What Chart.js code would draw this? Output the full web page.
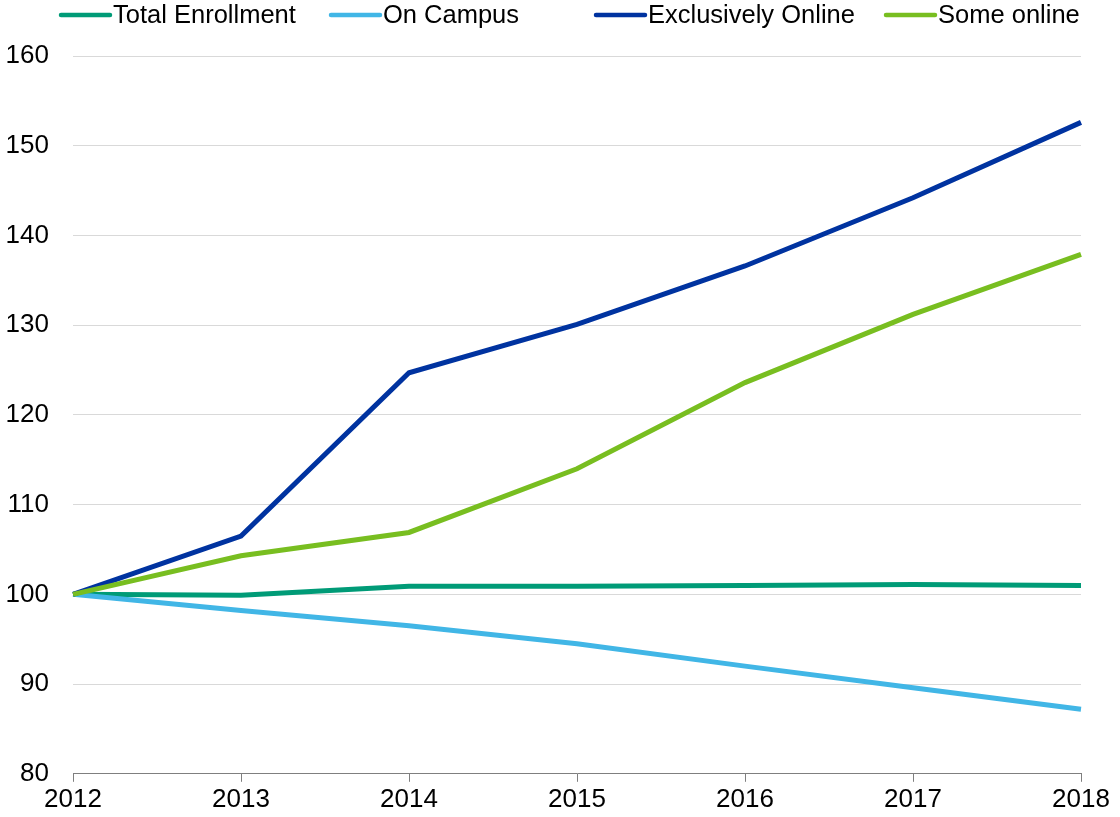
<!DOCTYPE html>
<html>
<head>
<meta charset="utf-8">
<script src="https://cdn.jsdelivr.net/npm/chart.js@4.4.0/dist/chart.umd.min.js"></script>
<style>
html,body{margin:0;padding:0;background:#fff;}
#wrap{width:1120px;height:817px;position:relative;}
</style>
</head>
<body>
<div id="wrap"><canvas id="c" width="1120" height="817"></canvas></div>
<script>
const years = ["2012","2013","2014","2015","2016","2017","2018"];
const totalEnrollment = [100, 99.9, 100.9, 100.9, 101.0, 101.1, 101.0];
const onCampus = [100, 98.2, 96.5, 94.5, 92.0, 89.6, 87.2];
const exclusivelyOnline = [100, 106.5, 124.7, 130.1, 136.6, 144.2, 152.6];
const someOnline = [100, 104.3, 106.9, 114.0, 123.6, 131.2, 137.9];
const seriesNames = ["Total Enrollment", "On Campus", "Exclusively Online", "Some online"];
const seriesColors = ["#009B77", "#41B6E6", "#0033A0", "#78BE20"];

const FONT = "'Liberation Sans', Arial, sans-serif";
const legendX = [59, 329, 594, 884];

const customLegend = {
  id: 'customLegend',
  afterDraw(chart) {
    const ctx = chart.ctx;
    ctx.save();
    ctx.font = "25.5px " + FONT;
    ctx.textBaseline = 'middle';
    ctx.textAlign = 'left';
    const y = 15;
    chart.data.datasets.forEach((ds, i) => {
      const x = legendX[i];
      ctx.strokeStyle = ds.borderColor;
      ctx.lineWidth = 4.5;
      ctx.lineCap = 'round';
      ctx.beginPath();
      ctx.moveTo(x + 2, y);
      ctx.lineTo(x + 51, y);
      ctx.stroke();
      ctx.fillStyle = '#000';
      ctx.fillText(ds.label, x + 54, y + 1);
    });
    ctx.restore();
  }
};

const seriesData = [totalEnrollment, onCampus, exclusivelyOnline, someOnline];
new Chart(document.getElementById('c'), {
  type: 'line',
  data: {
    labels: years,
    datasets: seriesData.map((d, i) => ({
      label: seriesNames[i],
      data: d,
      borderColor: seriesColors[i],
      backgroundColor: seriesColors[i],
      borderWidth: 5,
      pointRadius: 0,
      tension: 0,
      fill: false,
      order: 4 - i
    }))
  },
  options: {
    responsive: false,
    animation: false,
    layout: { padding: { top: 56, left: 6, right: 39, bottom: 0 } },
    plugins: { legend: { display: false }, tooltip: { enabled: false } },
    scales: {
      x: {
        offset: false,
        grid: { drawOnChartArea: false, drawTicks: true, tickLength: 8, color: '#7f7f7f' },
        border: { display: true, color: '#7f7f7f', width: 1 },
        ticks: { color: '#000', font: { family: FONT, size: 26 }, padding: 2, maxRotation: 0 }
      },
      y: {
        min: 80, max: 160,
        afterFit(scale) { scale.width = 67; },
        grid: { color: '#d9d9d9', drawTicks: false, lineWidth: 1 },
        border: { display: false },
        ticks: { stepSize: 10, color: '#000', font: { family: FONT, size: 26 }, padding: 24 }
      }
    }
  },
  plugins: [customLegend]
});
</script>
</body>
</html>
